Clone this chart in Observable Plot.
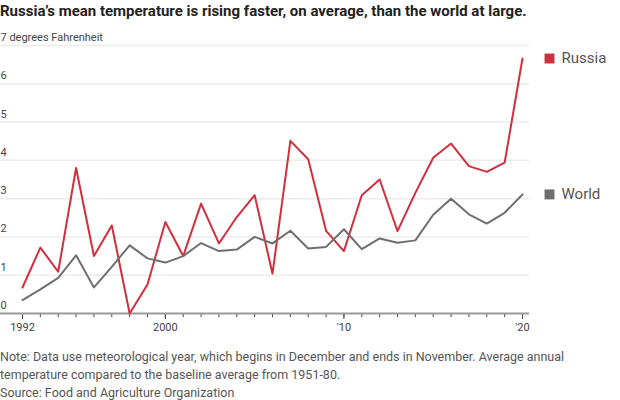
<!DOCTYPE html>
<html><head><meta charset="utf-8">
<script src="https://cdn.jsdelivr.net/npm/d3@7"></script>
<script src="https://cdn.jsdelivr.net/npm/@observablehq/plot@0.6"></script>
<style>
body{margin:0;background:#fff;font-family:"Roboto",sans-serif;width:620px;height:400px;overflow:hidden;position:relative}
#title{position:absolute;left:0;top:2px;font-weight:bold;font-size:15px;color:#222;white-space:nowrap}
#chart{position:absolute;left:0;top:28px}
#note{position:absolute;left:0;top:348px;font-size:12.5px;line-height:18px;color:#555;width:610px}
</style></head><body>
<div id="title">Russia’s mean temperature is rising faster, on average, than the world at large.</div>
<div id="chart"></div>
<div id="note">Note: Data use meteorological year, which begins in December and ends in November. Average annual<br>temperature compared to the baseline average from 1951-80.<br>Source: Food and Agriculture Organization</div>
<script>
const years = [1992,1993,1994,1995,1996,1997,1998,1999,2000,2001,2002,2003,2004,2005,2006,2007,2008,2009,2010,2011,2012,2013,2014,2015,2016,2017,2018,2019,2020];
const russia = [0.68,1.72,1.09,3.8,1.5,2.3,0.0,0.76,2.39,1.5,2.87,1.83,2.52,3.09,1.04,4.51,4.03,2.16,1.63,3.09,3.5,2.15,3.15,4.07,4.44,3.85,3.7,3.94,6.66];
const world = [0.35,0.63,0.93,1.52,0.68,1.22,1.78,1.44,1.33,1.5,1.84,1.63,1.67,2.0,1.83,2.16,1.7,1.74,2.2,1.68,1.96,1.85,1.91,2.58,3.0,2.59,2.35,2.63,3.11];
const yTicks = [0,1,2,3,4,5,6,7];
const yTickLabels = ["0","1","2","3","4","5","6","7 degrees Fahrenheit"];
const xLabelTicks = [1992,2000,2010,2020];
const xLabels = ["1992","2000","'10","'20"];
const seriesNames = ["Russia","World"];
const seriesColors = ["#d22f3c","#6f6f6f"];

const data = [];
years.forEach((yr,i)=>{
  data.push({year:yr, value:russia[i], series:"Russia"});
  data.push({year:yr, value:world[i], series:"World"});
});
const lastPts = [
  {series:"Russia", year:years[years.length-1], value:russia[russia.length-1]},
  {series:"World", year:years[years.length-1], value:world[world.length-1]}
];
const xLabelMap = new Map(xLabelTicks.map((t,i)=>[t,xLabels[i]]));
const yLabelMap = new Map(yTicks.map((t,i)=>[t,yTickLabels[i]]));

const chart = Plot.plot({
  width: 620,
  height: 315,
  marginLeft: 22,
  marginRight: 98,
  marginTop: 17,
  marginBottom: 30,
  style: {fontFamily: '"Roboto",sans-serif', background: "#fff"},
  x: {domain: [1992, 2020], axis: null},
  y: {domain: [0, 7], axis: null},
  color: {domain: seriesNames, range: seriesColors},
  marks: [
    Plot.ruleY(yTicks.filter(d=>d>0), {y: d=>d, stroke: "#ececec", strokeWidth: 1.5, insetLeft: -22, insetRight: -7}),
    Plot.text(yTicks, {y: d=>d, text: d=>yLabelMap.get(d), frameAnchor: "left", textAnchor: "start", dx: -22, dy: -8, fontSize: 11, fill: "#444"}),
    Plot.axisX({ticks: years, tickFormat: ()=>"", tickSize: 4, stroke: "#444", label: null}),
    Plot.axisX({ticks: xLabelTicks, tickFormat: d=>xLabelMap.get(d), tickSize: 6, tickPadding: 4, fontSize: 11, fill: "#444", stroke: "#444", label: null}),
    Plot.ruleY([0], {stroke: "#999", strokeWidth: 2, insetLeft: -22, insetRight: -7}),
    Plot.line(data, {x: "year", y: "value", z: "series", stroke: "series", strokeWidth: 2}),
    Plot.dot(lastPts, {x: "year", y: "value", fill: "series", symbol: "square", r: 5.6, dx: 27, stroke: null}),
    Plot.text(lastPts, {x: "year", y: "value", text: "series", dx: 39, textAnchor: "start", fontSize: 15, fill: "#555"})
  ]
});
document.getElementById("chart").appendChild(chart);
</script>
</body></html>
